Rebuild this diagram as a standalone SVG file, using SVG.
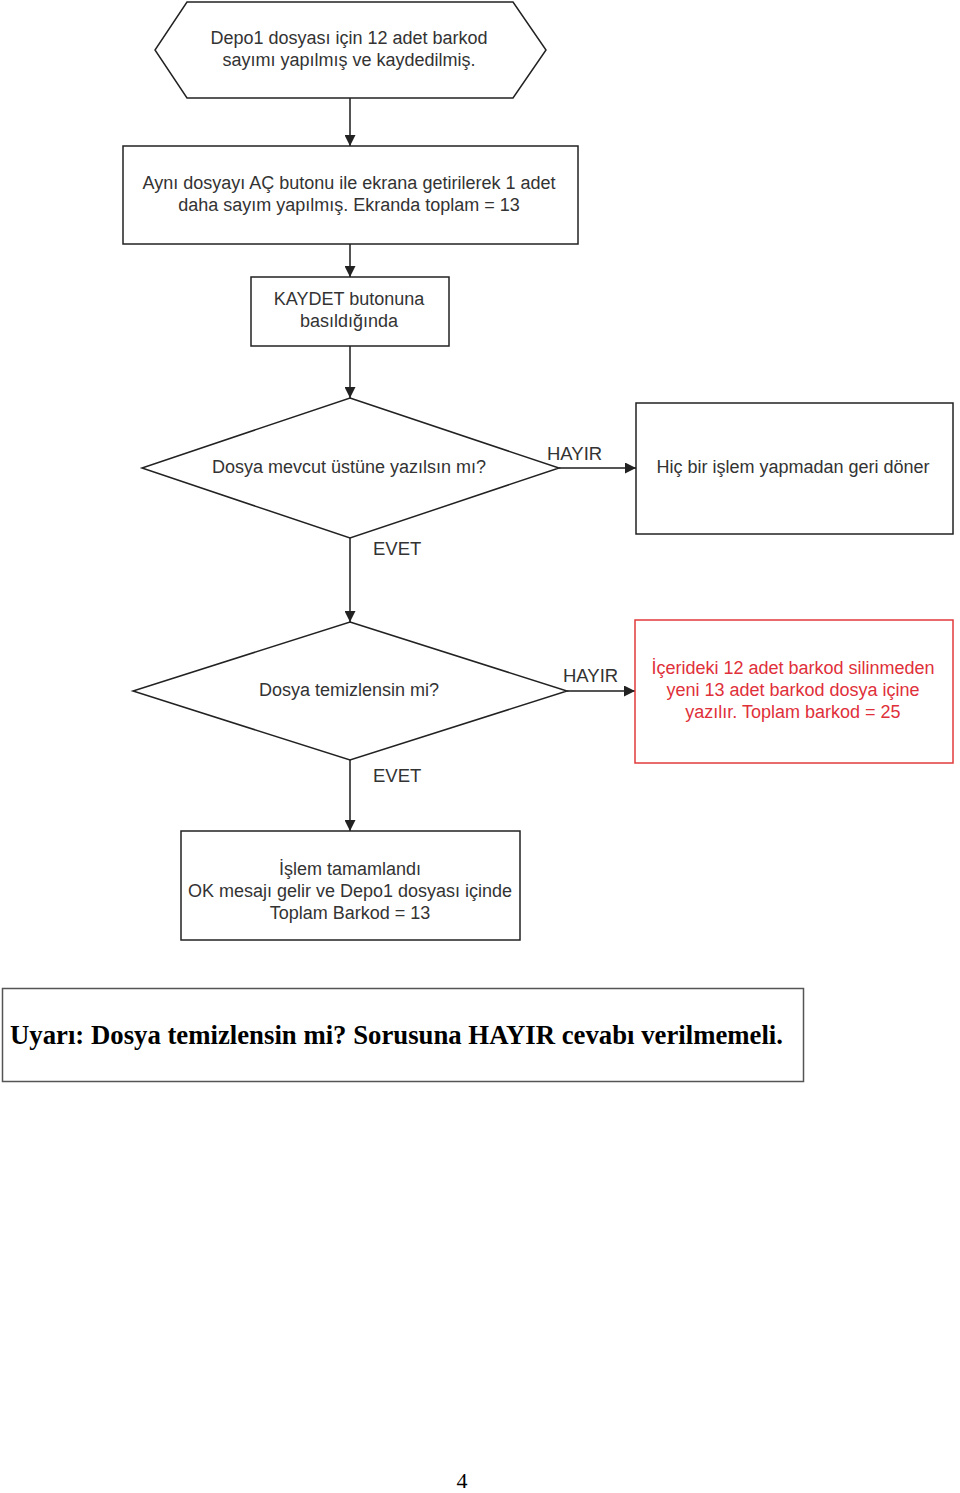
<svg xmlns="http://www.w3.org/2000/svg" width="960" height="1493" viewBox="0 0 960 1493">
<style>
.shape{fill:#fff;stroke:#222;stroke-width:1.5}
.red{fill:#fff;stroke:#e23a3a;stroke-width:1.5}
.t{font-family:"Liberation Sans",Arial,sans-serif;font-size:18px;fill:#333;text-anchor:middle}
.tr{font-family:"Liberation Sans",Arial,sans-serif;font-size:18px;fill:#e0303a;text-anchor:middle}
.lbl{font-family:"Liberation Sans",Arial,sans-serif;font-size:18.5px;fill:#333}
.conn{stroke:#555;stroke-width:2;fill:none;marker-end:url(#ah)}
.warn{font-family:"Liberation Serif","Times New Roman",serif;font-size:28px;font-weight:bold;fill:#000}
</style>
<defs>
<marker id="ah" viewBox="0 0 10 10" refX="10" refY="5" markerWidth="11" markerHeight="11" markerUnits="userSpaceOnUse" orient="auto">
<path d="M0,0 L10,5 L0,10 z" fill="#222"/>
</marker>
</defs>
<rect width="960" height="1493" fill="#fff"/>
<g id="connectors">
<line class="conn" x1="350" y1="98" x2="350" y2="146"/>
<line class="conn" x1="350" y1="244" x2="350" y2="277"/>
<line class="conn" x1="350" y1="346" x2="350" y2="398"/>
<line class="conn" x1="559" y1="468" x2="636" y2="468"/>
<line class="conn" x1="350" y1="538" x2="350" y2="622"/>
<line class="conn" x1="567" y1="691" x2="635" y2="691"/>
<line class="conn" x1="350" y1="760" x2="350" y2="831"/>
<text class="lbl" x="547" y="460">HAYIR</text>
<text class="lbl" x="373" y="555">EVET</text>
<text class="lbl" x="563" y="682">HAYIR</text>
<text class="lbl" x="373" y="782">EVET</text>
</g>
<g id="start">
<polygon class="shape" points="187,2 513,2 546,50 513,98 187,98 155,50"/>
<text class="t" x="349" y="44">Depo1 dosyası için 12 adet barkod</text>
<text class="t" x="349" y="66">sayımı yapılmış ve kaydedilmiş.</text>
</g>
<g id="open">
<rect class="shape" x="123" y="146" width="455" height="98"/>
<text class="t" x="349" y="189">Aynı dosyayı AÇ butonu ile ekrana getirilerek 1 adet</text>
<text class="t" x="349" y="211">daha sayım yapılmış. Ekranda toplam = 13</text>
</g>
<g id="save">
<rect class="shape" x="251" y="277" width="198" height="69"/>
<text class="t" x="349" y="305">KAYDET butonuna</text>
<text class="t" x="349" y="327">basıldığında</text>
</g>
<g id="q1">
<polygon class="shape" points="350,398 559,468 350,538 142,468"/>
<text class="t" x="349" y="473">Dosya mevcut üstüne yazılsın mı?</text>
</g>
<g id="noop">
<rect class="shape" x="636" y="403" width="317" height="131"/>
<text class="t" x="793" y="473">Hiç bir işlem yapmadan geri döner</text>
</g>
<g id="q2">
<polygon class="shape" points="350,622 567,691 350,760 133,691"/>
<text class="t" x="349" y="696">Dosya temizlensin mi?</text>
</g>
<g id="append">
<rect class="red" x="635" y="620" width="318" height="143"/>
<text class="tr" x="793" y="674">İçerideki 12 adet barkod silinmeden</text>
<text class="tr" x="793" y="696">yeni 13 adet barkod dosya içine</text>
<text class="tr" x="793" y="718">yazılır. Toplam barkod = 25</text>
</g>
<g id="done">
<rect class="shape" x="181" y="831" width="339" height="109"/>
<text class="t" x="350" y="875">İşlem tamamlandı</text>
<text class="t" x="350" y="897">OK mesajı gelir ve Depo1 dosyası içinde</text>
<text class="t" x="350" y="919">Toplam Barkod = 13</text>
</g>
<g id="warning">
<rect x="2.5" y="988.5" width="801" height="93" fill="#fff" stroke="#555" stroke-width="1.5"/>
<text class="warn" x="10" y="1044" textLength="773" lengthAdjust="spacingAndGlyphs">Uyarı: Dosya temizlensin mi? Sorusuna HAYIR cevabı verilmemeli.</text>
</g>
<text x="462" y="1488" font-family="Liberation Serif,'Times New Roman',serif" font-size="22" fill="#000" text-anchor="middle">4</text>
</svg>
